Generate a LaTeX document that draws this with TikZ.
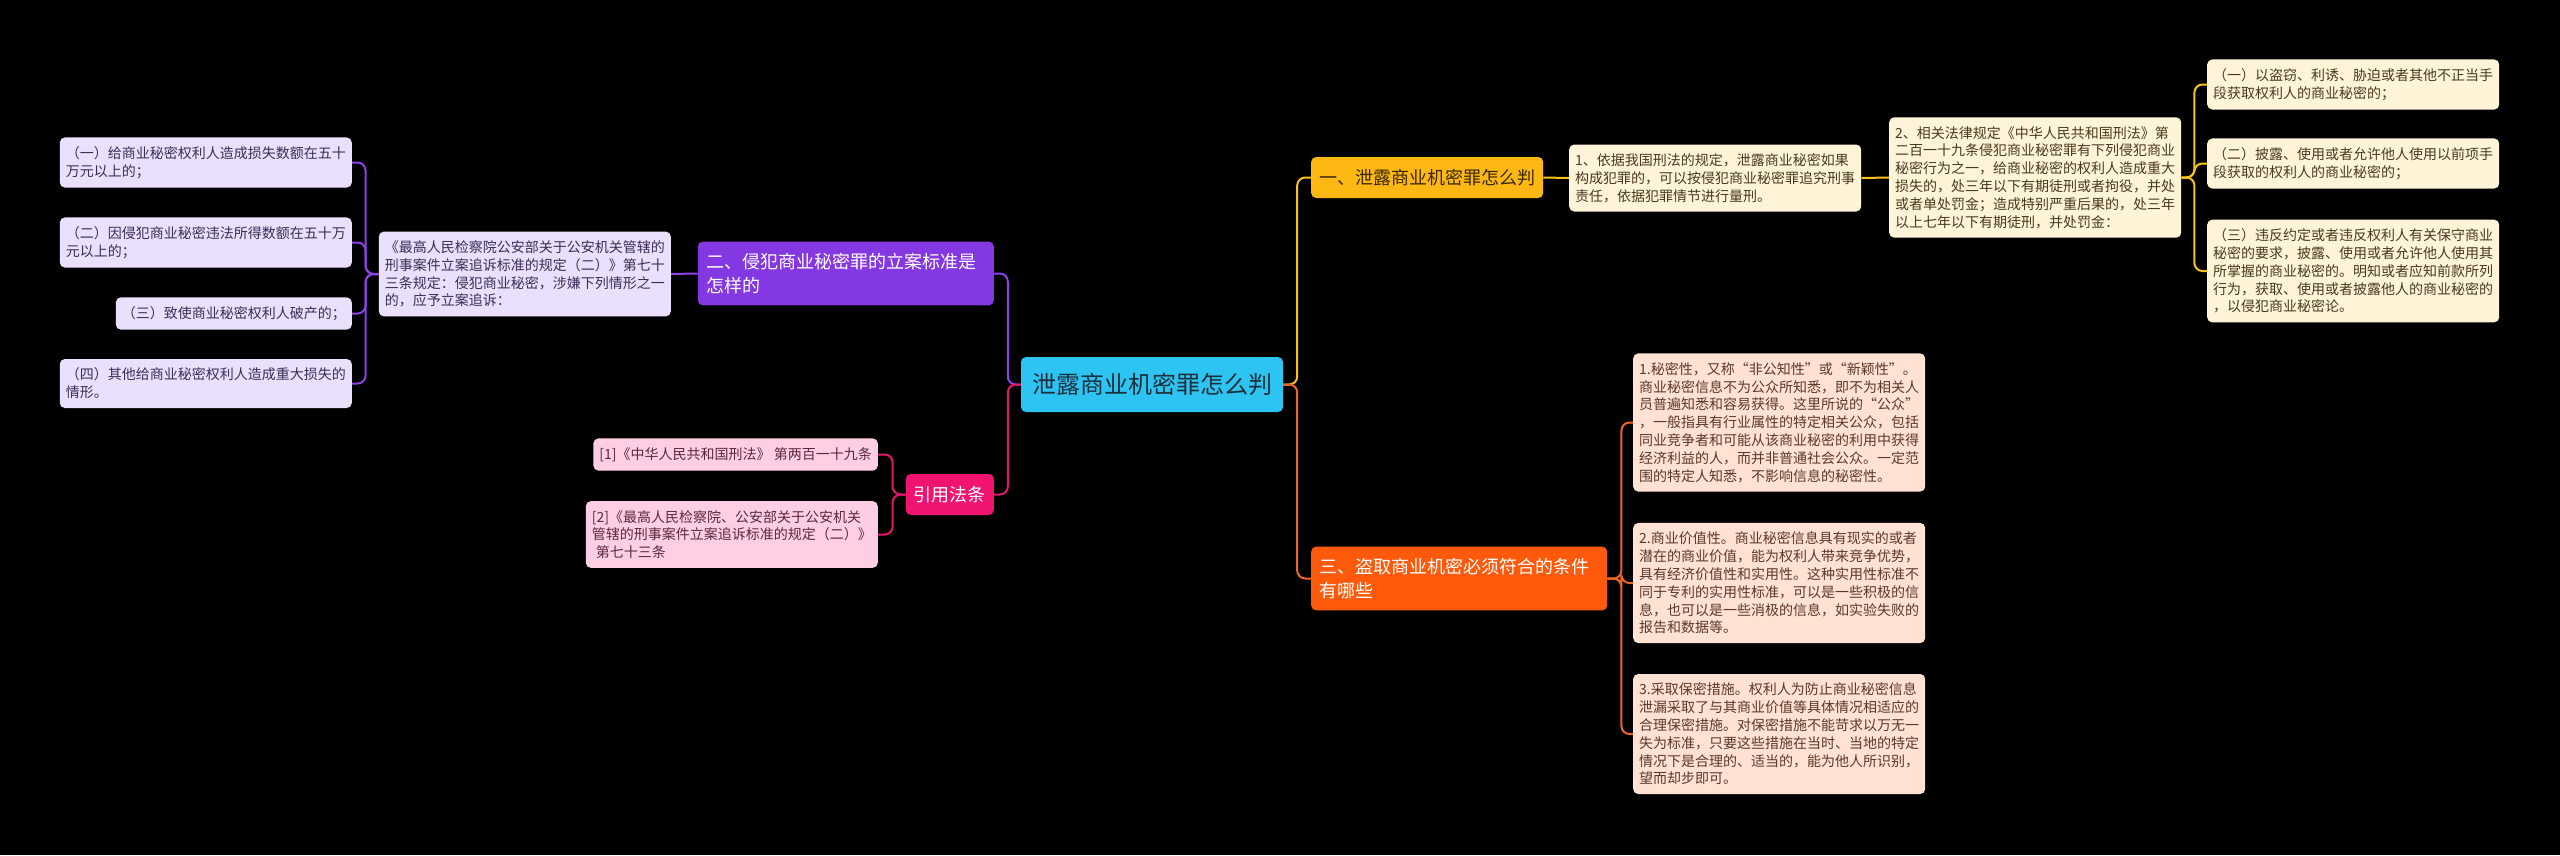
\documentclass[tikz,border=0pt]{standalone}
\usepackage{fontspec}
\setmainfont{Noto Sans CJK SC}
\definecolor{rootc}{HTML}{2EC4F2}
\definecolor{roott}{HTML}{1B2E3A}
\definecolor{yb}{HTML}{FDB813}
\definecolor{ybt}{HTML}{3A2800}
\definecolor{yl}{HTML}{FFF4D7}
\definecolor{ylt}{HTML}{4A3A1C}
\definecolor{yline}{HTML}{F8C21C}
\definecolor{ob}{HTML}{FF5A0C}
\definecolor{ol}{HTML}{FFE2D4}
\definecolor{olt}{HTML}{5A382A}
\definecolor{oline}{HTML}{F0642A}
\definecolor{pb}{HTML}{8438E2}
\definecolor{pl}{HTML}{EAE0FB}
\definecolor{plt}{HTML}{3C2D58}
\definecolor{pline}{HTML}{8C42E6}
\definecolor{kb}{HTML}{F01470}
\definecolor{kl}{HTML}{FFCEE4}
\definecolor{klt}{HTML}{5A2840}
\definecolor{kline}{HTML}{E0186C}
\tikzset{
  rootbox/.style={rounded corners=5pt, fill=rootc, text=roott, minimum width=262pt, minimum height=55pt, inner sep=4pt, font=\fontsize{24}{28}\selectfont},
  branchbox/.style={rounded corners=5pt, inner xsep=8pt, inner ysep=4pt, minimum height=41pt, font=\fontsize{18}{24}\selectfont, align=left},
  twoline/.style={text width=279pt, inner xsep=8.5pt, inner ysep=11.5pt},
  leafbox/.style={rounded corners=5pt, inner xsep=6pt, inner ysep=9pt, align=left, font=\fontsize{14}{17.8}\selectfont},
  leafw/.style={leafbox, text width=280pt},
  yleaf/.style={fill=yl, text=ylt},
  oleaf/.style={fill=ol, text=olt},
  pleaf/.style={fill=pl, text=plt},
  kleaf/.style={fill=kl, text=klt},
  conn/.style={line width=2pt, rounded corners=8pt}
}
\begin{document}
\begin{tikzpicture}[x=1pt,y=-1pt]
\useasboundingbox (0,0) rectangle (2560,855);
\fill[black] (0,0) rectangle (2560,855);

% root
\node[rootbox] (root) at (1152,384.5) {泄露商业机密罪怎么判};

% branches
\node[branchbox, fill=yb, text=ybt, anchor=west] (b1) at (1311,177.5) {一、泄露商业机密罪怎么判};
\node[branchbox, twoline, fill=ob, text=white, anchor=west] (b3) at (1311,578.5) {三、盗取商业机密必须符合的条件\\有哪些};
\node[branchbox, twoline, fill=pb, text=white, anchor=east] (b2) at (994,273.5) {二、侵犯商业秘密罪的立案标准是\\怎样的};
\node[branchbox, fill=kb, text=white, anchor=east] (b4) at (994,494.5) {引用法条};

% yellow leaves
\node[leafw, yleaf, anchor=west] (y1) at (1569,178) {1、依据我国刑法的规定，泄露商业秘密如果\\构成犯罪的，可以按侵犯商业秘密罪追究刑事\\责任，依据犯罪情节进行量刑。};
\node[leafw, yleaf, anchor=west] (y2) at (1889,177.5) {2、相关法律规定《中华人民共和国刑法》第\\二百一十九条侵犯商业秘密罪有下列侵犯商业\\秘密行为之一，给商业秘密的权利人造成重大\\损失的，处三年以下有期徒刑或者拘役，并处\\或者单处罚金；造成特别严重后果的，处三年\\以上七年以下有期徒刑，并处罚金：};
\node[leafw, yleaf, anchor=west] (y3) at (2207,84.5) {（一）以盗窃、利诱、胁迫或者其他不正当手\\段获取权利人的商业秘密的；};
\node[leafw, yleaf, anchor=west] (y4) at (2207,163.5) {（二）披露、使用或者允许他人使用以前项手\\段获取的权利人的商业秘密的；};
\node[leafw, yleaf, anchor=west] (y5) at (2207,271) {（三）违反约定或者违反权利人有关保守商业\\秘密的要求，披露、使用或者允许他人使用其\\所掌握的商业秘密的。明知或者应知前款所列\\行为，获取、使用或者披露他人的商业秘密的\\，以侵犯商业秘密论。};

% orange leaves
\node[leafw, oleaf, anchor=west] (o1) at (1633,422.5) {1.秘密性，又称“非公知性”或“新颖性”。\\商业秘密信息不为公众所知悉，即不为相关人\\员普遍知悉和容易获得。这里所说的“公众”\\，一般指具有行业属性的特定相关公众，包括\\同业竞争者和可能从该商业秘密的利用中获得\\经济利益的人，而并非普通社会公众。一定范\\围的特定人知悉，不影响信息的秘密性。};
\node[leafw, oleaf, anchor=west] (o2) at (1633,583) {2.商业价值性。商业秘密信息具有现实的或者\\潜在的商业价值，能为权利人带来竞争优势，\\具有经济价值性和实用性。这种实用性标准不\\同于专利的实用性标准，可以是一些积极的信\\息，也可以是一些消极的信息，如实验失败的\\报告和数据等。};
\node[leafw, oleaf, anchor=west] (o3) at (1633,734) {3.采取保密措施。权利人为防止商业秘密信息\\泄漏采取了与其商业价值等具体情况相适应的\\合理保密措施。对保密措施不能苛求以万无一\\失为标准，只要这些措施在当时、当地的特定\\情况下是合理的、适当的，能为他人所识别，\\望而却步即可。};

% purple leaves
\node[leafw, pleaf, anchor=east] (p1) at (671,274) {《最高人民检察院公安部关于公安机关管辖的\\刑事案件立案追诉标准的规定（二）》第七十\\三条规定：侵犯商业秘密，涉嫌下列情形之一\\的，应予立案追诉：};
\node[leafw, pleaf, anchor=east] (p2) at (352,162.5) {（一）给商业秘密权利人造成损失数额在五十\\万元以上的；};
\node[leafw, pleaf, anchor=east] (p3) at (352,242.5) {（二）因侵犯商业秘密违法所得数额在五十万\\元以上的；};
\node[leafbox, pleaf, anchor=east] (p4) at (352,313.5) {（三）致使商业秘密权利人破产的；};
\node[leafw, pleaf, anchor=east] (p5) at (352,383.5) {（四）其他给商业秘密权利人造成重大损失的\\情形。};

% pink leaves
\node[leafbox, kleaf, anchor=east] (k1) at (878,454.5) {[1]《中华人民共和国刑法》 第两百一十九条};
\node[leafw, kleaf, anchor=east] (k2) at (878,534.5) {[2]《最高人民检察院、公安部关于公安机关\\管辖的刑事案件立案追诉标准的规定（二）》\\\hspace*{4pt}第七十三条};

% connectors
\draw[conn, yline] (root.east) -- ++(14,0) |- (b1.west);
\draw[conn, oline] (root.east) -- ++(14,0) |- (b3.west);
\draw[conn, pline] (root.west) -- ++(-13,0) |- (b2.east);
\draw[conn, kline] (root.west) -- ++(-13,0) |- (b4.east);
\draw[conn, yline] (b1.east) -- (y1.west);
\draw[conn, yline] (y1.east) -- (y2.west);
\foreach \n in {y3,y4,y5} \draw[conn, yline] (y2.east) -- ++(13,0) |- (\n.west);
\foreach \n in {o1,o2,o3} \draw[conn, oline] (b3.east) -- ++(14,0) |- (\n.west);
\draw[conn, pline] (b2.west) -- (p1.east);
\foreach \n in {p2,p3,p4,p5} \draw[conn, pline] (p1.west) -- ++(-13,0) |- (\n.east);
\foreach \n in {k1,k2} \draw[conn, kline] (b4.west) -- ++(-13,0) |- (\n.east);
\end{tikzpicture}
\end{document}
